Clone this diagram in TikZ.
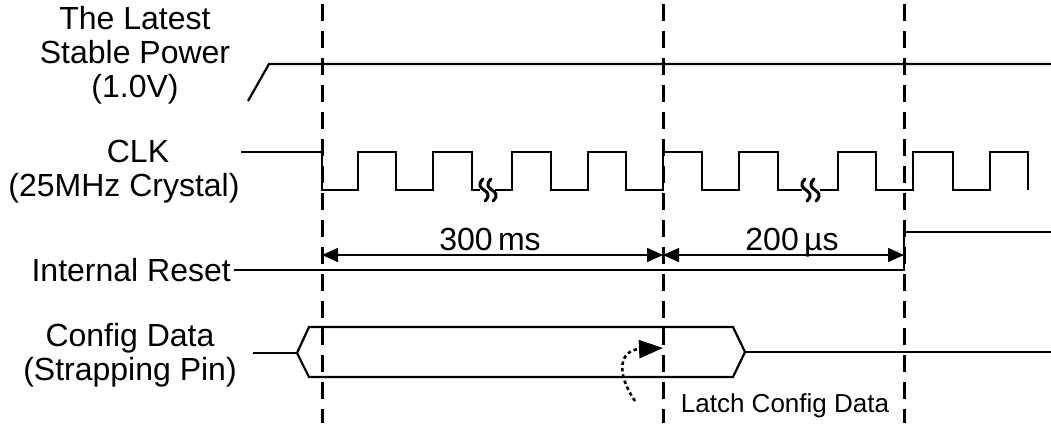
\documentclass[tikz,border=0pt]{standalone}
\usepackage{fontspec}
\setmainfont{Liberation Sans}
\usetikzlibrary{arrows.meta}
\begin{document}
\begin{tikzpicture}[x=1pt,y=-1pt,
  sig/.style={line width=2.2pt, line join=miter},
  guide/.style={line width=3pt, dash pattern=on 17pt off 10pt},
  dim/.style={line width=1.6pt, {Triangle[length=16pt,width=14pt]}-{Triangle[length=16pt,width=14pt]}},
  lbl/.style={inner sep=0pt, align=center, font=\fontsize{32}{34}\selectfont},
  small/.style={inner sep=0pt, font=\fontsize{26}{30}\selectfont},
  squig/.style={line width=3pt, line cap=round}]
\useasboundingbox (0,0) rectangle (1051,423);

% guide lines
\coordinate (g1t) at (322,4);  \coordinate (g1b) at (322,423);
\coordinate (g2t) at (663,4);  \coordinate (g2b) at (663,423);
\coordinate (g3t) at (904,4);  \coordinate (g3b) at (904,423);
\draw[guide] (g1t) -- (g1b);
\draw[guide] (g2t) -- (g2b);
\draw[guide] (g3t) -- (g3b);

% labels
\node[lbl] (pwr) at (135,55) {The Latest\\Stable Power\\(1.0V)};
\node[lbl] (clk) at (124,172) {\hspace*{28pt}CLK\\(25MHz Crystal)};
\node[lbl, anchor=base east] (rst) at (231,281) {Internal Reset};
\node[lbl] (cfg) at (130,355) {Config Data\\(Strapping Pin)};

% power
\draw[sig] (248,101) -- (269,64) -- (1051,64);

% clock
\draw[sig] (241,152) -- (322,152) -- (322,190) -- (358,190) -- (358,152) -- (396,152)
  -- (396,190) -- (433,190) -- (433,152) -- (472,152) -- (472,190) -- (480,190);
\draw[sig] (495,190) -- (512,190) -- (512,152) -- (551,152) -- (551,190) -- (588,190)
  -- (588,152) -- (626,152) -- (626,190) -- (663,190) -- (663,152) -- (702,152)
  -- (702,190) -- (739,190) -- (739,152) -- (778,152) -- (778,190) -- (802,190);
\draw[sig] (820,190) -- (838,190) -- (838,152) -- (876,152) -- (876,190) -- (913,190)
  -- (913,152) -- (953,152) -- (953,190) -- (990,190) -- (990,152) -- (1028,152) -- (1028,190);
% break marks
\foreach \x in {484,492,806,815}{
  \draw[squig] (\x-1,179) .. controls (\x-7,185) and (\x-3,188) .. (\x,190)
                        .. controls (\x+3,192) and (\x+7,195) .. (\x+1,201);
}

% internal reset
\draw[sig] (rst.east |- 0,270) ++(3,0) -- (904,270) -- (904,232) -- (1051,232);

% dimensions
\coordinate (d1) at (322,255);
\coordinate (d2) at (663,255);
\coordinate (d3) at (904,255);
\draw[dim] (d2) -- (d1);
\draw[dim] (d2) -- (d3);
\node[lbl, anchor=base] (t300) at (490,250) {300\,ms};
\node[lbl, anchor=base] (t200) at (792,250) {200\,µs};

% config data
\draw[sig] (253,353) -- (297,353);
\draw[sig] (297,353) -- (309,327) -- (733,327) -- (745,352) -- (733,377) -- (309,377) -- cycle;
\draw[sig] (745,352) -- (1051,352);

% latch arrow
\coordinate (ls) at (635,401);
\coordinate (le) at (663,348);
\draw[line width=2.6pt, dash pattern=on 3.5pt off 3pt, -{Triangle[length=24pt,width=18pt]}]
  (ls) .. controls (615,372) and (620,350) .. (le);
\node[small, anchor=base] (latch) at (785,412) {Latch Config Data};
\end{tikzpicture}
\end{document}
